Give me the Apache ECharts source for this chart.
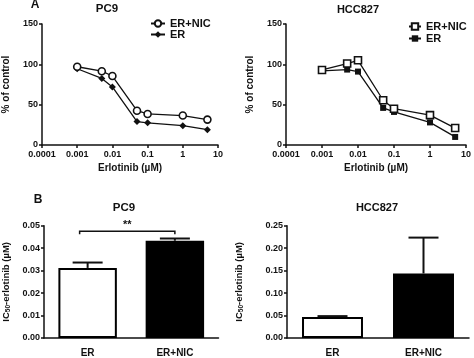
<!DOCTYPE html>
<html>
<head>
<meta charset="utf-8">
<script src="https://cdn.jsdelivr.net/npm/echarts@6/dist/echarts.min.js"></script>
<style>html,body{margin:0;padding:0;background:#fff;}#c{width:474px;height:358px;}</style>
</head>
<body>
<div id="c"></div>
<script>
// ---- data ----
const doses = [0.001, 0.005, 0.01, 0.05, 0.1, 1, 5];
const pc9ErNic = [97, 91.5, 85.5, 42.5, 38.5, 36.5, 31.5];
const pc9Er = [94.5, 82.5, 72, 29, 27.5, 24, 19];
const hccErNic = [93, 101, 105, 55.5, 45, 37, 21];
const hccEr = [92, 93.5, 91, 46, 41, 28, 10];
const xTickLabels = ['0.0001', '0.001', '0.01', '0.1', '1', '10'];
const barCats = ['ER', 'ER+NIC'];
const pc9IcMean = [0.0312, 0.0433];
const pc9IcUpper = [0.0336, 0.0443];
const hccIcMean = [0.0467, 0.1437];
const hccIcUpper = [0.0487, 0.2235];
const pc9Sig = [[0, 1, 0.0475, '**']];

const F = 'Liberation Sans, Arial, sans-serif';
const chart = echarts.init(document.getElementById('c'), null, {renderer: 'canvas'});

function pts(xs, ys) { return xs.map((x, i) => [x, ys[i]]); }

const axLine = {show: true, lineStyle: {color: '#111', width: 1.5}};
const axTick = {show: true, inside: false, length: 3, lineStyle: {color: '#111', width: 1.5}};
const lbl = {color: '#111', fontFamily: F, fontWeight: 'bold', fontSize: 9};

function logX(gi) {
  return {
    type: 'log', logBase: 10, min: 0.0001, max: 10, gridIndex: gi,
    axisLine: axLine, axisTick: axTick, splitLine: {show: false}, minorTick: {show: false},
    axisLabel: Object.assign({margin: 5, formatter: v => xTickLabels[Math.round(Math.log10(v)) + 4]}, lbl),
    name: 'Erlotinib (µM)', nameLocation: 'middle', nameGap: 18,
    nameTextStyle: {color: '#111', fontFamily: F, fontWeight: 'bold', fontSize: 10}
  };
}
function pctY(gi) {
  return {
    type: 'value', min: 0, max: 150, interval: 50, gridIndex: gi,
    axisLine: axLine, axisTick: axTick, splitLine: {show: false},
    axisLabel: Object.assign({margin: 4}, lbl),
    name: '% of control', nameLocation: 'middle', nameGap: 31,
    nameTextStyle: {color: '#111', fontFamily: F, fontWeight: 'bold', fontSize: 10}
  };
}
function catX(gi) {
  return {
    type: 'category', data: barCats, gridIndex: gi,
    axisLine: axLine, axisTick: {show: false},
    axisLabel: Object.assign({margin: 10}, lbl, {fontSize: 10})
  };
}
function icY(gi, max, interval, gap) {
  return {
    type: 'value', min: 0, max: max, interval: interval, gridIndex: gi,
    axisLine: axLine, axisTick: axTick, splitLine: {show: false},
    axisLabel: Object.assign({margin: 4, formatter: v => v.toFixed(2)}, lbl),
    name: '{a|IC}{s|50}{a|-erlotinib (µM)}', nameLocation: 'middle', nameGap: gap,
    nameTextStyle: {
      rich: {
        a: {color: '#111', fontFamily: F, fontWeight: 'bold', fontSize: 9.5},
        s: {color: '#111', fontFamily: F, fontWeight: 'bold', fontSize: 6.5, verticalAlign: 'bottom', padding: [5, 0, 0, 0]}
      }
    }
  };
}

function lineSeries(name, xi, data, symbol, size, filled) {
  return {
    type: 'line', name: name, xAxisIndex: xi, yAxisIndex: xi, data: data,
    symbol: symbol, symbolSize: size, showSymbol: true,
    lineStyle: {color: '#111', width: 1.3},
    itemStyle: {color: filled ? '#111' : '#fff', borderColor: '#111', borderWidth: filled ? 0 : 1.6},
    animation: false, z: filled ? 3 : 4
  };
}

function errSeries(xi, means, uppers) {
  return {
    type: 'custom', xAxisIndex: xi, yAxisIndex: xi, animation: false, z: 5,
    data: means.map((m, i) => [i, m, uppers[i]]),
    renderItem: function (params, api) {
      const p0 = api.coord([api.value(0), api.value(1)]);
      const p1 = api.coord([api.value(0), api.value(2)]);
      const hw = 15;
      return {
        type: 'group', children: [
          {type: 'line', shape: {x1: p0[0], y1: p0[1], x2: p1[0], y2: p1[1]}, style: {stroke: '#111', lineWidth: 2}},
          {type: 'line', shape: {x1: p1[0] - hw, y1: p1[1], x2: p1[0] + hw, y2: p1[1]}, style: {stroke: '#111', lineWidth: 2}}
        ]
      };
    }
  };
}

function barSeries(xi, means) {
  return {
    type: 'bar', xAxisIndex: xi, yAxisIndex: xi, barWidth: '67%', animation: false,
    data: means.map((m, i) => ({value: m, itemStyle: {color: i === 0 ? '#fff' : '#000', borderColor: '#000', borderWidth: 2}}))
  };
}

const sigSeries = {
  type: 'custom', xAxisIndex: 2, yAxisIndex: 2, animation: false, z: 6,
  data: pc9Sig,
  renderItem: function (params, api) {
    const a = api.coord([api.value(0), api.value(2)]);
    const b = api.coord([api.value(1), api.value(2)]);
    const x1 = a[0] - 8, x2 = b[0], y = a[1];
    return {
      type: 'group', children: [
        {type: 'polyline', shape: {points: [[x1, y + 3], [x1, y], [x2, y], [x2, y + 3]]}, style: {stroke: '#111', lineWidth: 1.5, fill: null}},
        {type: 'text', style: {x: (x1 + x2) / 2, y: y - 6, text: pc9Sig[params.dataIndex][3], textAlign: 'center', textVerticalAlign: 'middle', fill: '#111', font: 'bold 11px ' + F}}
      ]
    };
  }
};

const tStyle = (s) => ({fill: '#111', font: 'bold ' + s + 'px ' + F, textAlign: 'center', textVerticalAlign: 'middle'});

const legText = {color: '#111', fontFamily: F, fontWeight: 'bold', fontSize: 11};

const option = {
  backgroundColor: '#fff',
  animation: false,
  grid: [
    {left: 36, top: 24, width: 182, height: 121},
    {left: 286, top: 24, width: 183, height: 121},
    {left: 36.5, top: 225.7, width: 182, height: 120},
    {left: 287, top: 225.7, width: 182, height: 120}
  ],
  xAxis: [logX(0), logX(1), catX(2), catX(3)],
  yAxis: [pctY(0), pctY(1), icY(2, 0.05, 0.01, 32), icY(3, 0.25, 0.05, 42)],
  legend: [
    {
      left: 150, top: 18, padding: 0, orient: 'vertical', itemGap: 0, itemWidth: 14, itemHeight: 8,
      data: ['PC9|ER+NIC', 'PC9|ER'], formatter: n => n.split('|')[1], selectedMode: false,
      textStyle: legText
    },
    {
      left: 408, top: 21, padding: 0, orient: 'vertical', itemGap: 1, itemWidth: 12, itemHeight: 8,
      data: ['HCC|ER+NIC', 'HCC|ER'], formatter: n => n.split('|')[1], selectedMode: false,
      textStyle: legText
    }
  ],
  graphic: [
    {type: 'text', x: 35, y: 5, silent: true, style: Object.assign(tStyle(12), {text: 'A'})},
    {type: 'text', x: 107, y: 9, style: Object.assign(tStyle(11.5), {text: 'PC9'})},
    {type: 'text', x: 358, y: 10, style: Object.assign(tStyle(11), {text: 'HCC827'})},
    {type: 'text', x: 38, y: 200, style: Object.assign(tStyle(12), {text: 'B'})},
    {type: 'text', x: 124, y: 208, style: Object.assign(tStyle(11.5), {text: 'PC9'})},
    {type: 'text', x: 377, y: 208, style: Object.assign(tStyle(11), {text: 'HCC827'})}
  ],
  series: [
    lineSeries('PC9|ER+NIC', 0, pts(doses, pc9ErNic), 'circle', 7, false),
    lineSeries('PC9|ER', 0, pts(doses, pc9Er), 'diamond', 7, true),
    lineSeries('HCC|ER+NIC', 1, pts(doses, hccErNic), 'rect', 7, false),
    lineSeries('HCC|ER', 1, pts(doses, hccEr), 'rect', 6, true),
    barSeries(2, pc9IcMean),
    errSeries(2, pc9IcMean, pc9IcUpper),
    sigSeries,
    barSeries(3, hccIcMean),
    errSeries(3, hccIcMean, hccIcUpper)
  ]
};
chart.setOption(option);
</script>
</body>
</html>
